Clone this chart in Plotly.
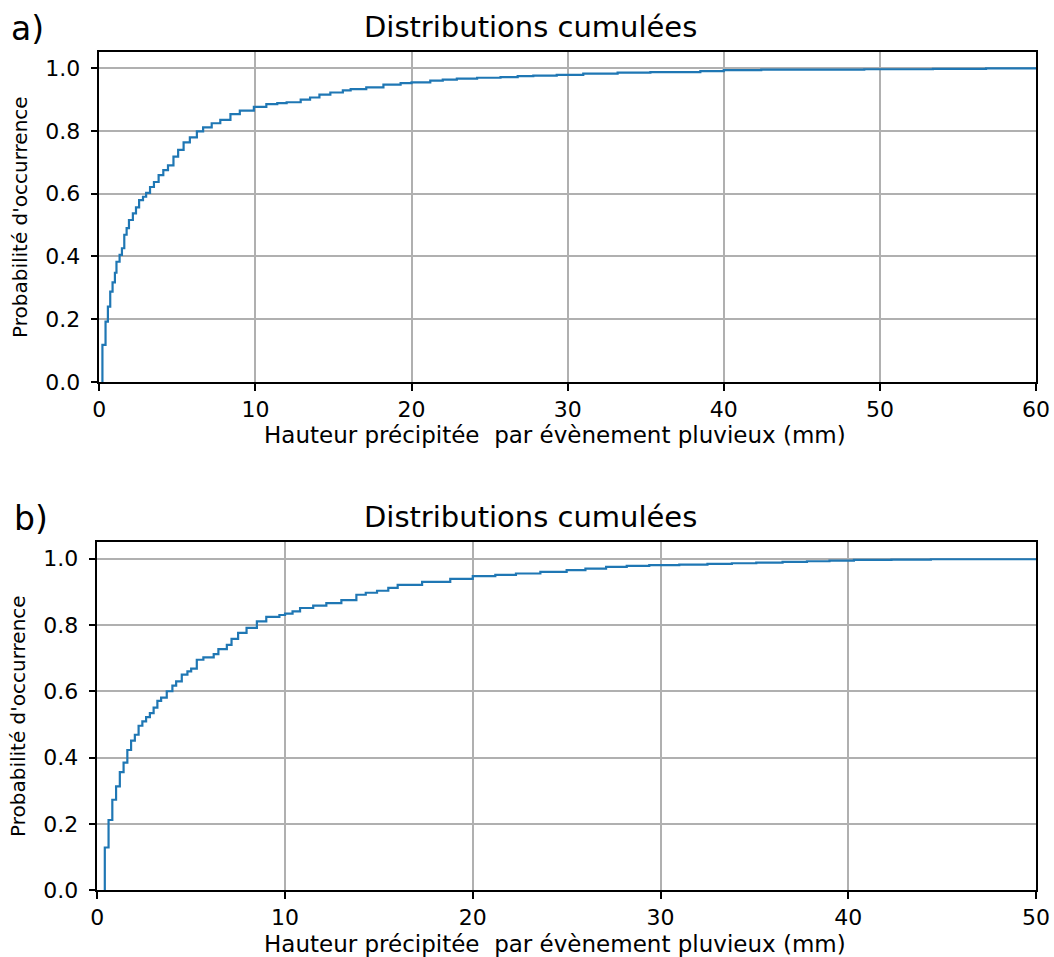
import plotly.graph_objects as go

# ---- data ----
# Panel a: empirical cumulative distribution (step points: x = rainfall depth in mm, y = cumulative prob.)
a_x = [0.2, 0.2, 0.4, 0.55, 0.7, 0.85, 1.0, 1.1, 1.3, 1.45, 1.6, 1.75, 1.9, 2.15, 2.35, 2.55,
       2.8, 3.0, 3.25, 3.5, 3.8, 4.1, 4.4, 4.75, 5.05, 5.4, 5.8, 6.25, 6.65, 7.2, 7.75, 8.4,
       9.0, 9.9, 10.7, 11.4, 12.0, 12.9, 13.5, 14.1, 14.8, 15.6, 16.1, 17.1, 18.2, 19.3, 20.0,
       21.2, 22.0, 22.9, 24.2, 25.7, 26.8, 27.8, 29.3, 31.0, 33.2, 35.3, 38.5, 40.0, 42.4, 49.0,
       53.4, 56.8, 72.0]
a_y = [0.0, 0.118, 0.192, 0.24, 0.288, 0.317, 0.348, 0.383, 0.405, 0.426, 0.469, 0.49, 0.516,
       0.537, 0.556, 0.579, 0.59, 0.602, 0.621, 0.637, 0.659, 0.675, 0.69, 0.718, 0.739, 0.763,
       0.779, 0.798, 0.811, 0.824, 0.835, 0.853, 0.864, 0.876, 0.885, 0.888, 0.891, 0.899, 0.906,
       0.915, 0.922, 0.929, 0.933, 0.938, 0.947, 0.952, 0.954, 0.96, 0.963, 0.966, 0.969, 0.971,
       0.974, 0.976, 0.978, 0.982, 0.985, 0.987, 0.99, 0.993, 0.995, 0.996, 0.997, 0.999, 1.0]

# Panel b
b_x = [0.4, 0.4, 0.6, 0.8, 1.0, 1.2, 1.4, 1.6, 1.8, 2.0, 2.2, 2.4, 2.6, 2.8, 3.0, 3.2, 3.4,
       3.7, 4.0, 4.2, 4.5, 4.8, 5.0, 5.3, 5.65, 6.2, 6.45, 6.9, 7.15, 7.5, 7.95, 8.5, 9.0, 9.7,
       10.0, 10.4, 10.8, 11.5, 12.2, 13.0, 13.8, 14.3, 14.9, 15.5, 16.0, 17.3, 18.8, 20.0, 21.2,
       22.3, 23.6, 25.0, 26.0, 27.1, 28.2, 29.4, 31.0, 32.5, 33.8, 35.1, 36.5, 37.8, 39.0, 40.3,
       42.3, 44.4, 60.0]
b_y = [0.0, 0.129, 0.212, 0.273, 0.313, 0.356, 0.385, 0.423, 0.451, 0.469, 0.496, 0.509, 0.522,
       0.534, 0.551, 0.571, 0.581, 0.6, 0.617, 0.63, 0.65, 0.66, 0.668, 0.695, 0.702, 0.712,
       0.727, 0.74, 0.758, 0.776, 0.791, 0.811, 0.824, 0.83, 0.834, 0.841, 0.851, 0.858, 0.866,
       0.875, 0.891, 0.897, 0.903, 0.912, 0.921, 0.93, 0.939, 0.947, 0.951, 0.955, 0.96, 0.965,
       0.97, 0.975, 0.978, 0.98, 0.982, 0.984, 0.986, 0.988, 0.99, 0.992, 0.994, 0.996, 0.997,
       0.998, 1.0]

a_xticks = [0, 10, 20, 30, 40, 50, 60]
b_xticks = [0, 10, 20, 30, 40, 50]
y_ticks = [0.0, 0.2, 0.4, 0.6, 0.8, 1.0]

title_text = "Distributions cumulées"
x_title = "Hauteur précipitée  par évènement pluvieux (mm)"
y_title = "Probabilité d'occurrence"
panel_labels = ["a)", "b)"]

# ---- figure ----
W, H = 1054, 957
LINE = "#1f77b4"
FONT = "DejaVu Sans"

fig = go.Figure()
fig.add_trace(go.Scatter(x=a_x, y=a_y, mode="lines", line=dict(color=LINE, width=2.2, shape="hv"),
                         xaxis="x", yaxis="y", showlegend=False, hoverinfo="x+y"))
fig.add_trace(go.Scatter(x=b_x, y=b_y, mode="lines", line=dict(color=LINE, width=2.2, shape="hv"),
                         xaxis="x2", yaxis="y2", showlegend=False, hoverinfo="x+y"))


def px_x(p):
    return p / W


def px_y(p):
    return 1 - p / H


common_axis = dict(showline=True, linecolor="black", linewidth=1.5, mirror=True,
                   ticks="outside", ticklen=7, tickwidth=1.5, tickcolor="black",
                   showgrid=True, gridcolor="#b0b0b0", gridwidth=1.5, zeroline=False,
                   automargin=False,
                   tickfont=dict(family=FONT, size=22, color="black"))

fig.update_layout(
    width=W, height=H,
    margin=dict(l=0, r=0, t=0, b=0, pad=0),
    plot_bgcolor="white", paper_bgcolor="white",
    font=dict(family=FONT, color="black"),
    xaxis=dict(domain=[px_x(99.3), px_x(1036)], range=[0, 60], tickvals=a_xticks,
               anchor="y", ticklabelstandoff=0, **common_axis),
    yaxis=dict(domain=[px_y(382), px_y(52.3)], range=[0, 1.05], tickvals=y_ticks,
               tickformat=".1f", anchor="x", ticklabelstandoff=6,
               title=dict(text=y_title, font=dict(family=FONT, size=20), standoff=12),
               **common_axis),
    xaxis2=dict(domain=[px_x(97.3), px_x(1036)], range=[0, 50], tickvals=b_xticks,
                anchor="y2", ticklabelstandoff=0, **common_axis),
    yaxis2=dict(domain=[px_y(890.3), px_y(542)], range=[0, 1.05], tickvals=y_ticks,
                tickformat=".1f", anchor="x2", ticklabelstandoff=6,
                title=dict(text=y_title, font=dict(family=FONT, size=20), standoff=12),
                **common_axis),
)

annotations = [
    dict(text=title_text, x=px_x(530), y=px_y(27), xref="paper", yref="paper",
         showarrow=False, xanchor="center", yanchor="middle", font=dict(family=FONT, size=29)),
    dict(text=title_text, x=px_x(530), y=px_y(517), xref="paper", yref="paper",
         showarrow=False, xanchor="center", yanchor="middle", font=dict(family=FONT, size=29)),
    dict(text=panel_labels[0], x=px_x(9), y=px_y(29), xref="paper", yref="paper",
         showarrow=False, xanchor="left", yanchor="middle", font=dict(family=FONT, size=33)),
    dict(text=panel_labels[1], x=px_x(12), y=px_y(518), xref="paper", yref="paper",
         showarrow=False, xanchor="left", yanchor="middle", font=dict(family=FONT, size=33)),
    dict(text=x_title, x=px_x(555), y=px_y(435), xref="paper", yref="paper",
         showarrow=False, xanchor="center", yanchor="middle", font=dict(family=FONT, size=23)),
    dict(text=x_title, x=px_x(555), y=px_y(944), xref="paper", yref="paper",
         showarrow=False, xanchor="center", yanchor="middle", font=dict(family=FONT, size=23)),
]
fig.update_layout(annotations=annotations)

fig.write_html("out.html", config={"displayModeBar": False},
               post_script="document.body.style.margin='0';document.body.style.overflow='hidden';")
